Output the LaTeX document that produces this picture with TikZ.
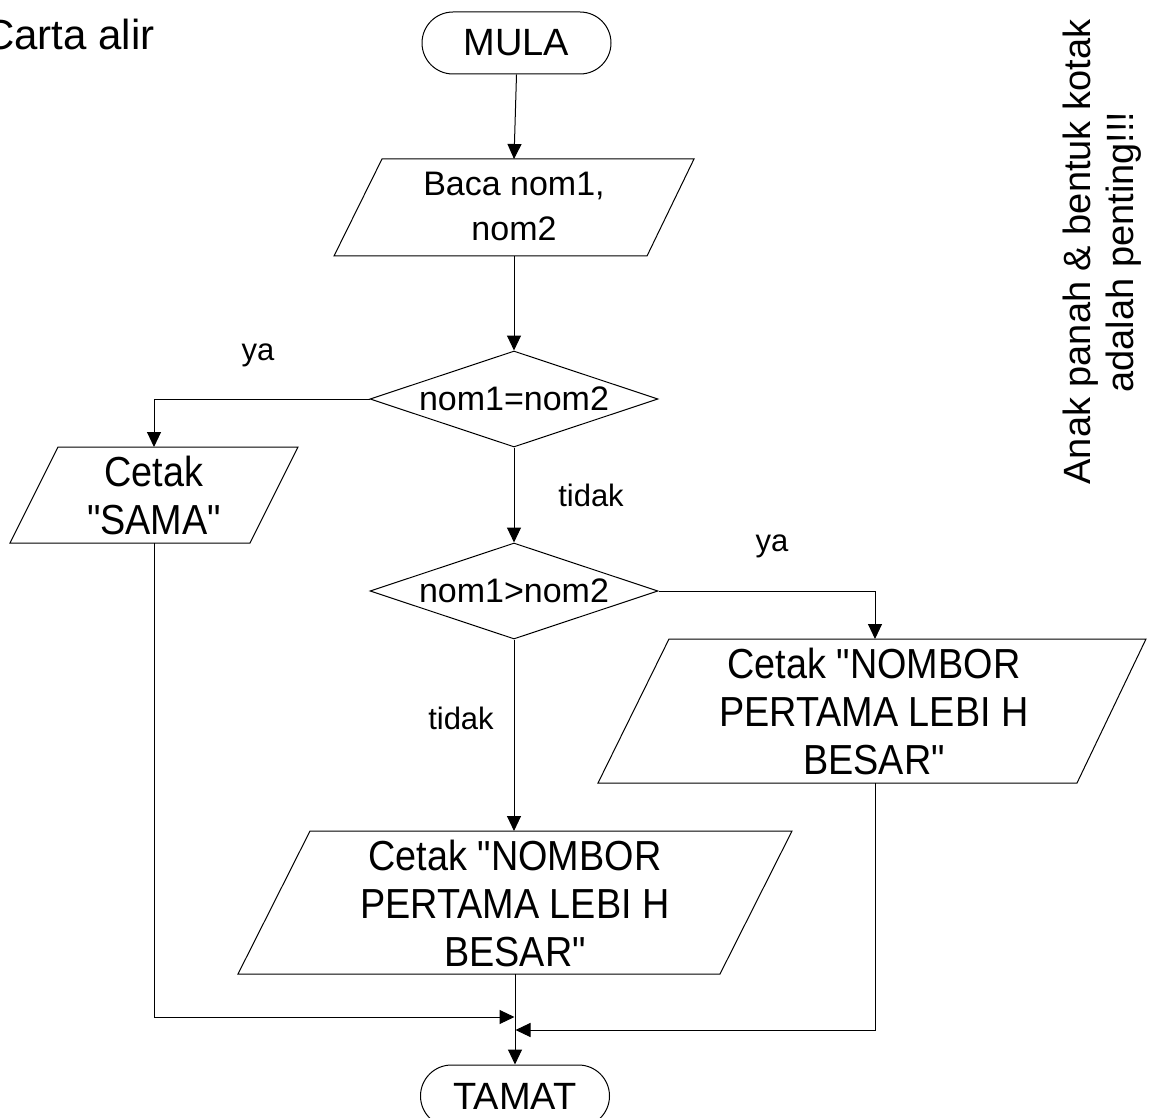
\documentclass[tikz,border=0pt]{standalone}
\usepackage{fontspec}
\setmainfont{Liberation Sans}
\newfontfamily\boxfont[FakeStretch=0.9]{Liberation Sans}
\usetikzlibrary{arrows.meta,shapes.geometric,shapes.misc}
\begin{document}
\begin{tikzpicture}[x=1pt,y=-1pt,line width=1pt,
  arr/.style={-{Triangle[length=15pt,width=14pt]}},
  term/.style={draw,rounded rectangle,minimum width=189pt,minimum height=62pt,inner sep=0pt,font=\fontsize{38}{44}\selectfont},
  dec/.style={draw,diamond,shape aspect=3,minimum width=288pt,minimum height=96pt,inner sep=0pt,font=\fontsize{34}{40}\selectfont},
  iotext/.style={align=center,inner sep=0pt,font=\boxfont\fontsize{42}{48}\selectfont},
  readtext/.style={align=center,inner sep=0pt,font=\fontsize{34}{45}\selectfont},
  lbl/.style={inner sep=0pt,font=\fontsize{31}{36}\selectfont}]
\useasboundingbox (0,0) rectangle (1149,1118);

% title and note
\node[anchor=base east,inner sep=0pt,font=\fontsize{42}{48}\selectfont] (title) at (155,50) {Carta alir};
\node[rotate=90,align=center,inner sep=0pt,font=\fontsize{38}{43}\selectfont] (note) at (1102,252) {Anak panah \& bentuk kotak\\adalah penting!!!};

% start
\node[term] (mula) at (516.5,43) {MULA};

% read
\draw (382,159) -- (694,159) -- (647,256) -- (334,256) -- cycle;
\node[readtext] (baca) at (514,206) {Baca nom1,\\nom2};
\coordinate (bacaN) at (514,159);
\coordinate (bacaS) at (514,256);
\draw[arr] (mula.south) -- (bacaN);

% decision 1
\node[dec] (d1) at (514,399) {nom1=nom2};
\draw[arr] (bacaS) -- (d1.north);

% SAMA
\draw (58,447) -- (298,447) -- (250,543) -- (10,543) -- cycle;
\node[iotext] (sama) at (154,495) {Cetak\\"SAMA"};
\coordinate (samaN) at (154,447);
\coordinate (samaS) at (154,543);
\draw[arr] (d1.west) -| (samaN);
\node[lbl] (ya1) at (258,355) {ya};

% decision 2
\node[dec] (d2) at (514,591) {nom1>nom2};
\draw[arr] (d1.south) -- (d2.north);
\node[lbl] (tidak1) at (591,495) {tidak};

% right output
\draw (669,639) -- (1146,639) -- (1077,783) -- (598,783) -- cycle;
\node[iotext] (besarA) at (874,711) {Cetak "NOMBOR\\PERTAMA LEBI H\\BESAR"};
\coordinate (bAN) at (875,639);
\coordinate (bAS) at (875,783);
\draw[arr] (d2.east) -| (bAN);
\node[lbl] (ya2) at (772,546) {ya};

% bottom output
\draw (310,831) -- (792,831) -- (720,974) -- (238,974) -- cycle;
\node[iotext] (besarB) at (515,903) {Cetak "NOMBOR\\PERTAMA LEBI H\\BESAR"};
\coordinate (bBN) at (514,831);
\coordinate (bBS) at (515,974);
\draw[arr] (d2.south) -- (bBN);
\node[lbl] (tidak2) at (461,718) {tidak};

% end
\node[term] (tamat) at (515,1096) {TAMAT};
\draw[arr] (bBS) -- (tamat.north);

% joins
\coordinate (jA) at (514.5,1017);
\coordinate (jB) at (515.5,1030);
\draw[arr] (samaS) |- (jA);
\draw[arr] (bAS) |- (jB);
\end{tikzpicture}
\end{document}
